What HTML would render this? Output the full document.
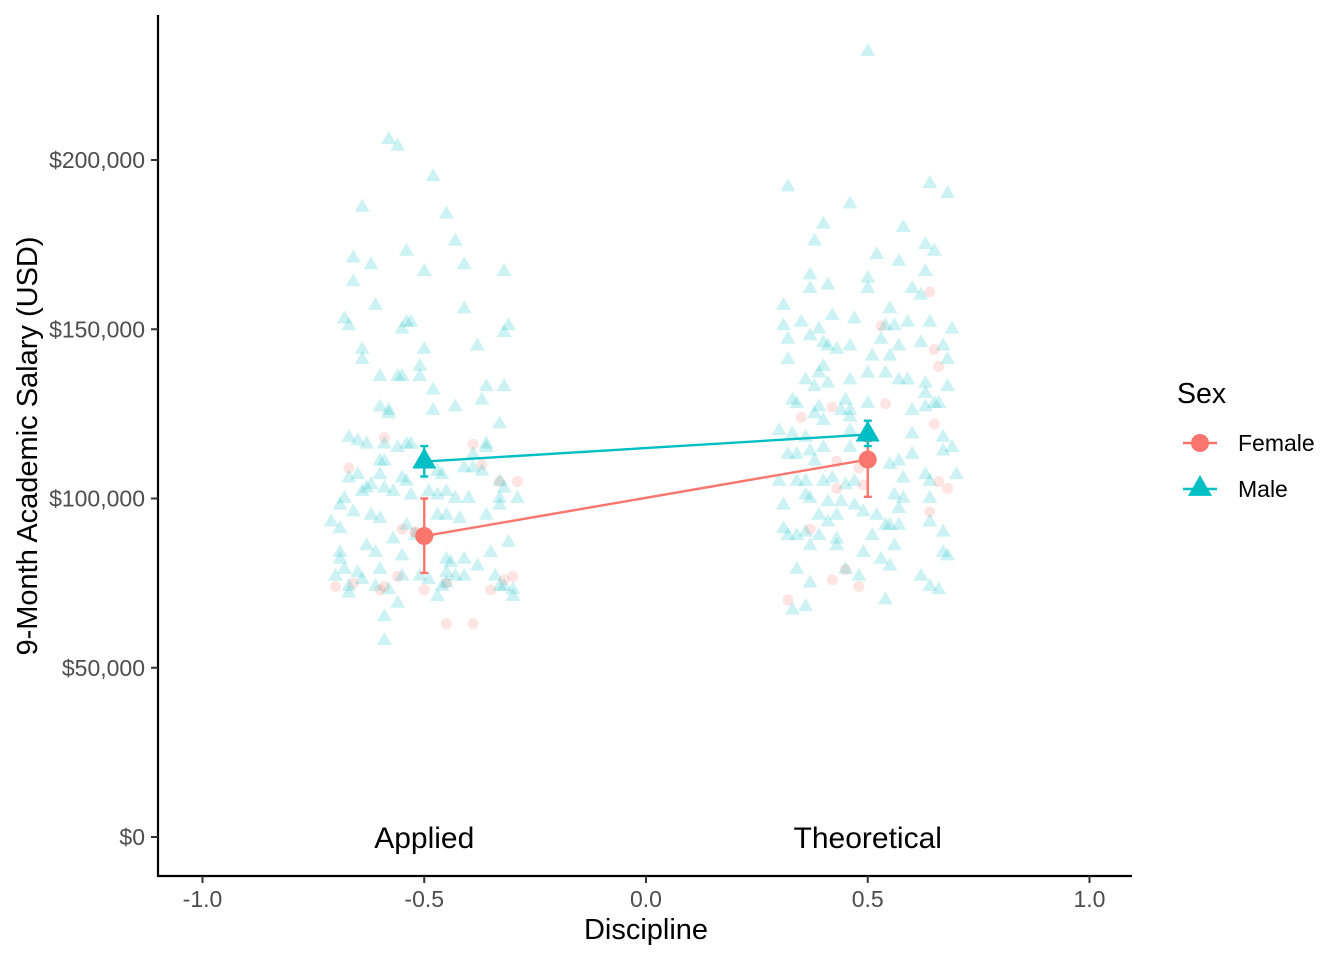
<!DOCTYPE html>
<html><head><meta charset="utf-8">
<style>
html,body{margin:0;padding:0;background:#fff;}
svg{display:block;font-family:"Liberation Sans",Arial,sans-serif;}
</style></head>
<body>
<svg id="chart" width="1344" height="960" viewBox="0 0 1344 960">
  <rect width="1344" height="960" fill="#fff"/>
  <g id="points"></g>
  <g id="means"></g>
  <g id="axes"></g>
  <g id="legend"></g>
</svg>
<script>
// ---- data ----
const categories = ["Applied", "Theoretical"];
const categoryX = [-0.5, 0.5];
const yTicks = [0, 50000, 100000, 150000, 200000];
const yTickLabels = ["$0", "$50,000", "$100,000", "$150,000", "$200,000"];
const xTicks = [-1.0, -0.5, 0.0, 0.5, 1.0];
const xTickLabels = ["-1.0", "-0.5", "0.0", "0.5", "1.0"];
const sexes = ["Female", "Male"];
const meanFemale = [88900, 111500];
const lowFemale = [78000, 100500];
const highFemale = [100000, 117000];
const meanMale = [110900, 118900];
const lowMale = [106500, 115500];
const highMale = [115500, 123000];
// raw points: jitter offset from category center, salary in $k
const appMaleJ = [-0.08,-0.06,0.02,-0.14,0.05,-0.04,0.07,-0.16,0,0.09,0.18,-0.16,-0.12,-0.18,-0.17,-0.11,-0.03,-0.05,-0.04,0.09,0.19,0.18,-0.14,0,0.12,-0.14,-0.10,-0.06,-0.05,-0.01,-0.01,0.02,-0.10,-0.08,-0.08,0.07,0.02,0.14,0.13,0.17,0.18,-0.17,-0.15,-0.13,-0.09,-0.06,-0.04,-0.03,0.11,0.14,0.14,-0.10,-0.09,0,-0.17,-0.15,-0.13,-0.10,-0.05,-0.04,0.03,0.04,0.09,0.11,0.13,0.17,0.18,0.21,-0.18,-0.14,-0.12,-0.09,-0.07,-0.03,0.01,0.03,0.05,0.05,0.07,0.10,0.17,-0.19,-0.16,-0.12,-0.10,-0.04,-0.02,0.03,0.08,0.14,0.17,-0.21,-0.19,-0.05,-0.13,-0.11,-0.07,0.05,0.09,0.12,0.15,0.19,-0.19,-0.18,-0.15,-0.10,-0.17,-0.17,-0.14,-0.11,-0.08,-0.05,0.03,0.05,0.06,0.16,0.17,0.18,0.20,0.20,-0.06,0.04,0.07,0.09,-0.01,0.01,-0.09,-0.09,-0.20,-0.19,0.05];
const appMaleS = [206,204,195,186,184,173,176,171,167,169,167,164,169,153,151,157,152,150,152,156,151,149,144,144,145,141,136,136,136,139,136,132,127,126,125,127,126,133,129,122,133,118,117,116,116,115,116,116,113,116,115,111,111,112,106,107,103,107,106,105,108,107,109,109,108,105,103,100,100,102,104,103,102,101,102,101,102,95,100,100,100,98,96,95,94,92,89,95,94,95,98,93,91,83,86,84,88,82,82,80,84,87,82,79,78,79,74,72,76,74,73,77,71,78,81,77,74,74,73,71,69,74,77,77,77,76,65,58,77,84,75];
const appFemJ = [-0.09,-0.17,-0.20,0.11,0.13,0.17,0.21,-0.05,-0.02,-0.02,0,-0.09,-0.06,-0.16,-0.10,0.05,0,0.18,0.20,0.05,0.11,0.15];
const appFemS = [118,109,74,116,110,105,105,91,90,90,90,74,77,75,73,75,73,76,77,63,63,73];
const theMaleJ = [0,-0.18,0.14,0.18,-0.04,-0.10,0.08,-0.12,0.13,0.15,0.02,0.07,0.13,-0.13,-0.09,-0.13,0,0,0.10,0.12,-0.19,0.05,-0.19,-0.15,-0.11,-0.08,-0.03,0.04,0.06,0.09,0.14,0.19,-0.18,-0.13,-0.10,-0.09,-0.07,-0.04,0.03,0.07,0.12,0.17,-0.18,0.01,0.05,0.18,-0.10,-0.11,-0.14,-0.12,-0.09,-0.04,0,0.04,0.07,0.09,0.13,0.13,0.18,-0.17,-0.16,-0.11,-0.10,-0.12,-0.05,-0.06,-0.04,-0.04,0,0.10,0.13,0.15,0.16,-0.20,-0.17,-0.14,-0.04,0.10,0.17,-0.18,-0.16,-0.13,-0.10,-0.12,-0.04,0.05,0.07,0.10,0.17,0.19,-0.20,-0.16,-0.14,-0.10,-0.08,-0.05,-0.03,0.08,0.13,0.14,0.20,-0.19,-0.14,-0.13,-0.09,-0.06,-0.03,0.06,0.08,0.07,0.14,0.14,0.17,-0.19,-0.18,-0.16,-0.14,-0.11,-0.09,-0.07,-0.11,-0.07,-0.01,0.02,0.01,0.04,0.05,0.07,0.06,-0.16,-0.13,-0.13,-0.07,-0.05,-0.01,-0.02,0.03,0.05,0.12,0.14,0.16,0.18,0.17,0.04,-0.14,-0.17];
const theMaleS = [232,192,193,190,187,181,180,176,175,173,172,170,167,166,163,162,165,162,162,160,157,156,151,152,150,154,153,151,151,152,152,150,147,148,146,145,144,145,147,145,146,145,141,142,142,141,139,137,135,133,134,135,137,137,135,135,134,131,133,129,128,127,123,125,129,126,126,124,128,126,127,128,128,120,119,118,120,119,118,113,113,114,115,111,115,110,111,113,114,115,105,105,105,105,106,104,105,106,107,105,107,98,101,100,99,99,98,101,100,97,100,93,90,91,89,89,90,95,93,95,89,88,96,95,89,92,92,92,86,79,86,75,86,79,84,77,82,80,77,74,73,83,84,70,68,67];
const theFemJ = [0.14,0.03,0.15,0.16,-0.08,0.04,-0.15,0.15,-0.07,-0.02,-0.01,-0.07,0.16,0.18,0.14,-0.13,-0.05,-0.08,-0.02,-0.18];
const theFemS = [161,151,144,139,127,128,124,122,111,109,104,103,105,103,96,91,79,76,74,70];

// ---- scales ----
function xs(v){ return 646 + v*443.5; }
function ys(v){ return 837 - v/50000*169.25; }
const NS = "http://www.w3.org/2000/svg";
function mk(tag, attrs, parent){
  const e = document.createElementNS(NS, tag);
  for (const k in attrs) e.setAttribute(k, attrs[k]);
  parent.appendChild(e);
  return e;
}
function tri(cx, cy, s){
  const h = s*0.866;
  return `${cx},${cy-h*0.6667} ${cx-s/2},${cy+h*0.3333} ${cx+s/2},${cy+h*0.3333}`;
}
const COLF = "#F8766D", COLM = "#00BFC4";
const pts = document.getElementById("points");

function drawFem(js, ss, ci){
  for (let i=0;i<js.length;i++){
    const c = mk("circle", {cx: xs(categoryX[ci]+js[i]), cy: ys(ss[i]*1000), r: 5.5, fill: COLF, "fill-opacity": 0.2}, pts);
    
    
  }
}
function drawMale(js, ss, ci){
  for (let i=0;i<js.length;i++){
    const t = mk("polygon", {points: tri(xs(categoryX[ci]+js[i]), ys(ss[i]*1000), 15), fill: COLM, "fill-opacity": 0.2}, pts);
    
    
  }
}
drawFem(appFemJ, appFemS, 0);
drawMale(appMaleJ, appMaleS, 0);
drawFem(theFemJ, theFemS, 1);
drawMale(theMaleJ, theMaleS, 1);

// ---- means ----
const mg = document.getElementById("means");
function series(means, lows, highs, col, isMale, name){
  const l = mk("line", {x1: xs(categoryX[0]), y1: ys(means[0]), x2: xs(categoryX[1]), y2: ys(means[1]), stroke: col, "stroke-width": 2.4}, mg);
  
  
  for (let i=0;i<means.length;i++){
    const x = xs(categoryX[i]);
    const eb = mk("path", {d: `M${x-4},${ys(highs[i])}H${x+4}M${x},${ys(highs[i])}V${ys(lows[i])}M${x-4},${ys(lows[i])}H${x+4}`, stroke: col, "stroke-width": 2.4, fill: "none"}, mg);
    
    
    let m;
    if (isMale) m = mk("polygon", {points: tri(x, ys(means[i]), 24), fill: col}, mg);
    else m = mk("circle", {cx: x, cy: ys(means[i]), r: 9, fill: col}, mg);
    
    
  }
}
series(meanFemale, lowFemale, highFemale, COLF, false, "female");
series(meanMale, lowMale, highMale, COLM, true, "male");

// ---- axes ----
const ax = document.getElementById("axes");
let e;
e = mk("line", {x1: 158, y1: 15, x2: 158, y2: 877, stroke: "#000", "stroke-width": 2.2}, ax);
 
e = mk("line", {x1: 157, y1: 876, x2: 1132, y2: 876, stroke: "#000", "stroke-width": 2.2}, ax);
 
for (let i=0;i<yTicks.length;i++){
  const y = ys(yTicks[i]);
  e = mk("line", {x1: 151, y1: y, x2: 158, y2: y, stroke: "#333", "stroke-width": 2}, ax);
   
  e = mk("text", {x: 145, y: y+8, "text-anchor": "end", "font-size": 23, fill: "#4d4d4d"}, ax);
  e.textContent = yTickLabels[i];
   
}
for (let i=0;i<xTicks.length;i++){
  const x = xs(xTicks[i]);
  e = mk("line", {x1: x, y1: 876, x2: x, y2: 883, stroke: "#333", "stroke-width": 2}, ax);
   
  e = mk("text", {x: x, y: 907, "text-anchor": "middle", "font-size": 23, fill: "#4d4d4d"}, ax);
  e.textContent = xTickLabels[i];
   
}
for (let i=0;i<categories.length;i++){
  e = mk("text", {x: xs(categoryX[i]), y: 848, "text-anchor": "middle", "font-size": 30, fill: "#000"}, ax);
  e.textContent = categories[i];
   
}
e = mk("text", {x: 646, y: 939, "text-anchor": "middle", "font-size": 29, fill: "#000"}, ax);
e.textContent = "Discipline";
 
e = mk("text", {x: 0, y: 0, "text-anchor": "middle", "font-size": 29, fill: "#000", transform: "translate(37,446) rotate(-90)"}, ax);
e.textContent = "9-Month Academic Salary (USD)";
 

// ---- legend ----
const lg = document.getElementById("legend");
e = mk("text", {x: 1177, y: 403, "font-size": 28.5, fill: "#000"}, lg);
e.textContent = "Sex";
 
const legY = [443, 489];
const legCol = [COLF, COLM];
for (let i=0;i<sexes.length;i++){
  const g = mk("g", {}, lg);
  
  
  mk("line", {x1: 1183, y1: legY[i], x2: 1217, y2: legY[i], stroke: legCol[i], "stroke-width": 2.4}, g);
  if (i===0) mk("circle", {cx: 1200, cy: legY[i], r: 9, fill: legCol[i]}, g);
  else mk("polygon", {points: tri(1200, legY[i], 24), fill: legCol[i]}, g);
  const t = mk("text", {x: 1238, y: legY[i]+8, "font-size": 23, fill: "#000"}, g);
  t.textContent = sexes[i];
}
</script>
</body></html>
